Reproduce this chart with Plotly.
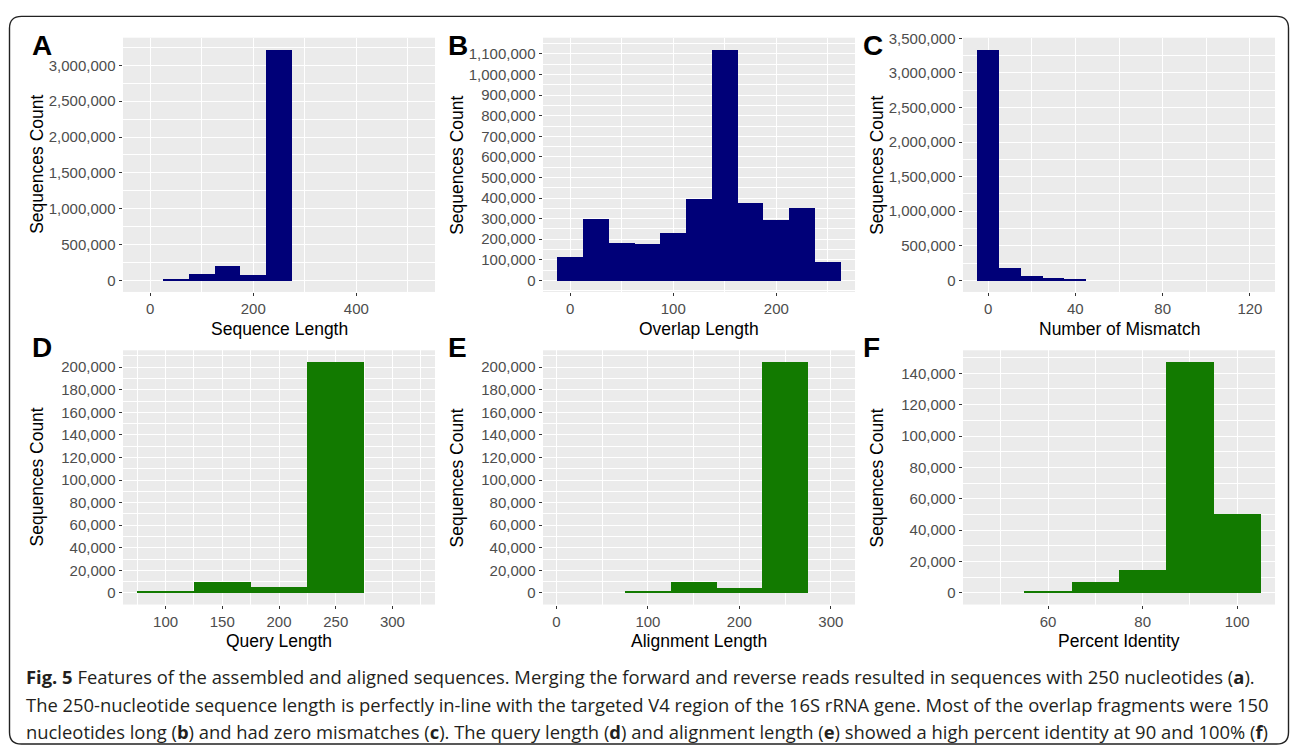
import plotly.graph_objects as go

W, H = 1292, 747

# ---------------- data ----------------
A_centers = [50, 100, 150, 200, 250]
A_counts = [22000, 91000, 210000, 86000, 3225000]

B_centers = [0, 25, 50, 75, 100, 125, 150, 175, 200, 225, 250]
B_counts = [115000, 299000, 184000, 179000, 232000, 395000, 1123000, 377000, 294000, 351000, 89000]

C_centers = [0, 10, 20, 30, 40]
C_counts = [3343000, 185000, 62000, 43000, 14000]

D_centers = [100, 150, 200, 250]
D_counts = [1700, 9600, 4700, 204700]

E_centers = [100, 150, 200, 250]
E_counts = [1700, 9600, 3800, 204700]

F_centers = [60, 70, 80, 90, 100]
F_counts = [1000, 6900, 14600, 147300, 50200]

x_titles = ["Sequence Length", "Overlap Length", "Number of Mismatch",
            "Query Length", "Alignment Length", "Percent Identity"]
y_title = "Sequences Count"
letters = ["A", "B", "C", "D", "E", "F"]

x_ticks = [[0, 200, 400], [0, 100, 200], [0, 40, 80, 120],
           [100, 150, 200, 250, 300], [0, 100, 200, 300], [60, 80, 100]]

caption_lines = [
    "<b>Fig. 5</b> Features of the assembled and aligned sequences. Merging the forward and reverse reads resulted in sequences with 250 nucleotides (<b>a</b>).",
    "The 250-nucleotide sequence length is perfectly in-line with the targeted V4 region of the 16S rRNA gene. Most of the overlap fragments were 150",
    "nucleotides long (<b>b</b>) and had zero mismatches (<b>c</b>). The query length (<b>d</b>) and alignment length (<b>e</b>) showed a high percent identity at 90 and 100% (<b>f</b>)",
]

# ---------------- layout / style ----------------
NAVY = "#000078"
GREEN = "#127A00"
panels = [
    dict(c=A_centers, v=A_counts, w=50, col=NAVY, xr=[-52.5, 552.5], yr=[-161250, 3386250], xminor=100, ydt=500000, yminor=250000),
    dict(c=B_centers, v=B_counts, w=25, col=NAVY, xr=[-26.25, 276.25], yr=[-56150, 1179150], xminor=50, ydt=100000, yminor=50000),
    dict(c=C_centers, v=C_counts, w=10, col=NAVY, xr=[-11.5, 131.5], yr=[-167150, 3510150], xminor=20, ydt=500000, yminor=250000),
    dict(c=D_centers, v=D_counts, w=50, col=GREEN, xr=[62.5, 337.5], yr=[-10235, 214935], xminor=25, ydt=20000, yminor=10000),
    dict(c=E_centers, v=E_counts, w=50, col=GREEN, xr=[-14.7, 326.4], yr=[-10235, 214935], xminor=50, ydt=20000, yminor=10000),
    dict(c=F_centers, v=F_counts, w=10, col=GREEN, xr=[42, 108], yr=[-7365, 154665], xminor=10, ydt=20000, yminor=10000),
]

col_px = [(123, 435), (543, 855), (963, 1275)]
row_px = [(30, 287), (346, 603)]

def px(x):
    return x / W

def py(y):
    return 1 - y / H

FONT = "Liberation Sans, Arial, sans-serif"
fig = go.Figure()
layout = dict(
    width=W, height=H, margin=dict(l=0, r=0, t=0, b=0),
    paper_bgcolor="white", plot_bgcolor="#EBEBEB",
    showlegend=False, bargap=0, font=dict(family=FONT),
)
annotations = []

for i, p in enumerate(panels):
    r, c = divmod(i, 3)
    x0, x1 = col_px[c]
    y0, y1 = row_px[r]
    sfx = "" if i == 0 else str(i + 1)
    fig.add_trace(go.Bar(
        x=p["c"], y=p["v"], width=p["w"], marker=dict(color=p["col"], line=dict(width=0)),
        xaxis="x" + sfx, yaxis="y" + sfx, hoverinfo="x+y",
    ))
    tickfont = dict(family=FONT, size=15, color="#4D4D4D")
    layout["xaxis" + sfx] = dict(
        domain=[px(x0), px(x1)], anchor="y" + sfx, range=p["xr"],
        tickvals=x_ticks[i], ticks="outside", ticklen=3.5, tickwidth=1.1, tickcolor="#333333",
        tickfont=tickfont, showgrid=True, gridcolor="white", gridwidth=1.3, zeroline=False,
        showline=False,
        minor=dict(dtick=p["xminor"], tick0=0, showgrid=True, gridcolor="white", gridwidth=0.6),
    )
    layout["yaxis" + sfx] = dict(
        domain=[py(y1), py(y0)], anchor="x" + sfx, range=p["yr"],
        tick0=0, dtick=p["ydt"], tickformat=",d", ticks="outside", ticklen=3.5, tickwidth=1.1,
        tickcolor="#333333", tickfont=tickfont, showgrid=True, gridcolor="white", gridwidth=1.3,
        zeroline=False, showline=False,
        minor=dict(dtick=p["yminor"], tick0=0, showgrid=True, gridcolor="white", gridwidth=0.6),
    )
    # x title
    annotations.append(dict(
        text=x_titles[i], x=px((x0 + x1) / 2), y=py(y1 + 37), xref="paper", yref="paper",
        xanchor="center", yanchor="middle", showarrow=False,
        font=dict(family=FONT, size=17.5, color="black"),
    ))
    # y title
    annotations.append(dict(
        text=y_title, x=px(x0 - 86), y=py((y0 + y1) / 2), xref="paper", yref="paper",
        xanchor="center", yanchor="middle", showarrow=False, textangle=-90,
        font=dict(family=FONT, size=17.5, color="black"),
    ))
    # panel letter
    lx = [30, 446, 861][c]
    ly = [38, 343][r]
    annotations.append(dict(
        text="<b>" + letters[i] + "</b>", x=px(lx), y=py(ly), xref="paper", yref="paper",
        xanchor="left", yanchor="middle", showarrow=False,
        font=dict(family=FONT, size=28, color="black"),
    ))

caption_y = [676, 704, 731]
for k, line in enumerate(caption_lines):
    annotations.append(dict(
        text=line, x=px(24), y=py(caption_y[k]), xref="paper", yref="paper",
        xanchor="left", yanchor="middle", showarrow=False,
        font=dict(family="Open Sans", size=18.4, color="#231F20"),
    ))

layout["annotations"] = annotations

# rounded frame
xl, xr_, yt, yb, rad = 9.5, 1288.5, 8.5, 744, 12
path = (
    f"M {px(xl + rad)},{py(yt)} L {px(xr_ - rad)},{py(yt)} Q {px(xr_)},{py(yt)} {px(xr_)},{py(yt + rad)} "
    f"L {px(xr_)},{py(yb - rad)} Q {px(xr_)},{py(yb)} {px(xr_ - rad)},{py(yb)} "
    f"L {px(xl + rad)},{py(yb)} Q {px(xl)},{py(yb)} {px(xl)},{py(yb - rad)} "
    f"L {px(xl)},{py(yt + rad)} Q {px(xl)},{py(yt)} {px(xl + rad)},{py(yt)} Z"
)
layout["shapes"] = [dict(type="path", path=path, xref="paper", yref="paper",
                         line=dict(color="#222222", width=1.4), fillcolor="rgba(0,0,0,0)", layer="above")]

fig.update_layout(**layout)
fig.write_html(
    "out.html",
    config={"displayModeBar": False},
    post_script="document.body.style.margin='0px';document.body.style.overflow='hidden';",
)
